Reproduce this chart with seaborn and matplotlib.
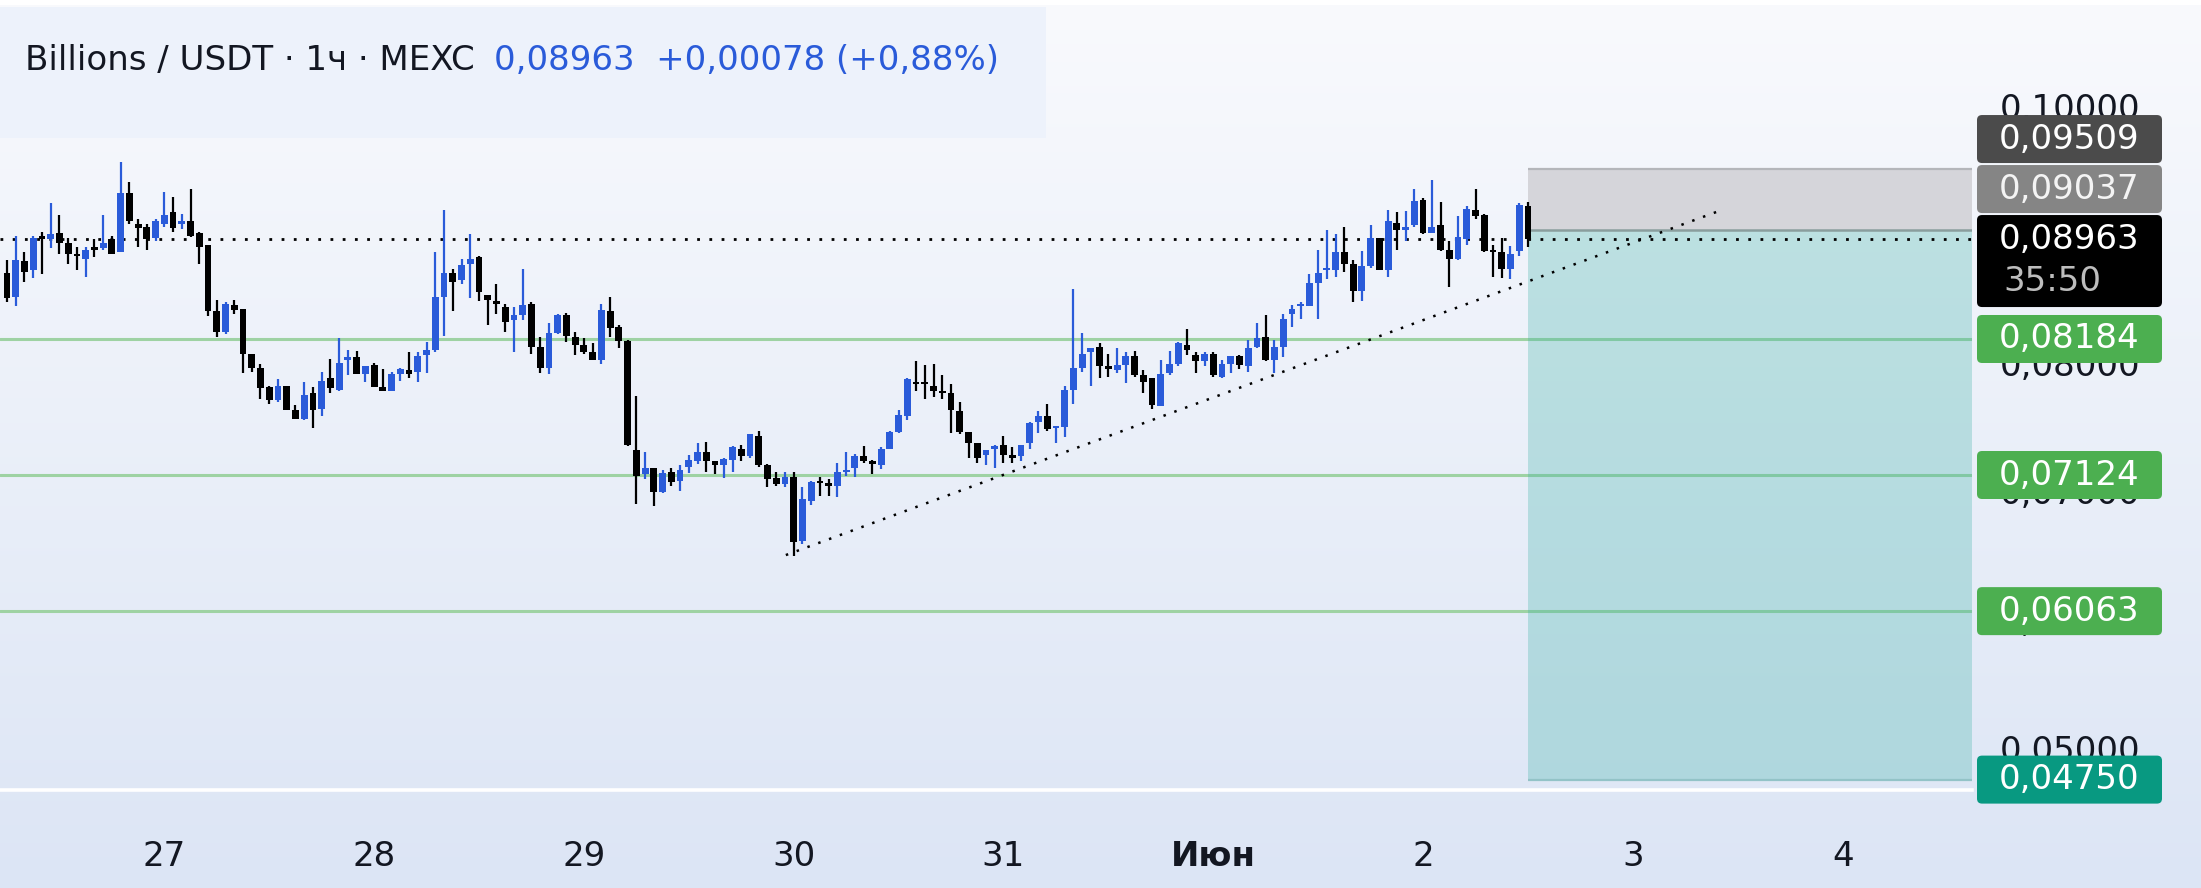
import numpy as np
import matplotlib
matplotlib.use("Agg")
import matplotlib.pyplot as plt
from matplotlib.patches import FancyBboxPatch, Rectangle
from matplotlib.colors import LinearSegmentedColormap
import seaborn as sns

# ---------------- data (hourly candles, MEXC Billions/USDT) ----------------
opens = [0.0870, 0.0851, 0.0879, 0.0872, 0.0899, 0.0896, 0.0901, 0.0893, 0.0885, 0.0881,
         0.0890, 0.0889, 0.0896, 0.0886, 0.0932, 0.0908, 0.0906, 0.0897, 0.0908, 0.0917,
         0.0908, 0.0910, 0.0901, 0.0892, 0.0840, 0.0824, 0.0845, 0.0842, 0.0807, 0.0796,
         0.0781, 0.0771, 0.0782, 0.0763, 0.0756, 0.0776, 0.0764, 0.0788, 0.0779, 0.0802,
         0.0804, 0.0791, 0.0798, 0.0781, 0.0778, 0.0791, 0.0794, 0.0793, 0.0806, 0.0810,
         0.0851, 0.0870, 0.0864, 0.0877, 0.0882, 0.0853, 0.0848, 0.0843, 0.0833, 0.0837,
         0.0846, 0.0812, 0.0796, 0.0823, 0.0837, 0.0820, 0.0814, 0.0808, 0.0802, 0.0840,
         0.0828, 0.0817, 0.0732, 0.0713, 0.0718, 0.0699, 0.0715, 0.0708, 0.0719, 0.0723,
         0.0730, 0.0723, 0.0720, 0.0724, 0.0733, 0.0727, 0.0743, 0.0720, 0.0710, 0.0705,
         0.0711, 0.0661, 0.0692, 0.0708, 0.0706, 0.0704, 0.0715, 0.0718, 0.0727, 0.0723,
         0.0720, 0.0733, 0.0746, 0.0758, 0.0785, 0.0785, 0.0782, 0.0778, 0.0776, 0.0762,
         0.0746, 0.0737, 0.0728, 0.0733, 0.0736, 0.0728, 0.0727, 0.0737, 0.0754, 0.0758,
         0.0749, 0.0750, 0.0779, 0.0796, 0.0808, 0.0812, 0.0797, 0.0794, 0.0798, 0.0805,
         0.0790, 0.0788, 0.0766, 0.0792, 0.0799, 0.0814, 0.0806, 0.0801, 0.0807, 0.0789,
         0.0799, 0.0805, 0.0797, 0.0812, 0.0820, 0.0802, 0.0812, 0.0838, 0.0844, 0.0844,
         0.0862, 0.0872, 0.0872, 0.0886, 0.0877, 0.0856, 0.0875, 0.0897, 0.0872, 0.0909,
         0.0903, 0.0907, 0.0927, 0.0901, 0.0907, 0.0888, 0.0881, 0.0896, 0.0919, 0.0915,
         0.0888, 0.0886, 0.0873, 0.0887, 0.0922]
highs = [0.0880, 0.0899, 0.0886, 0.0899, 0.0902, 0.0924, 0.0915, 0.0897, 0.0890, 0.0890,
         0.0896, 0.0915, 0.0899, 0.0956, 0.0941, 0.0912, 0.0908, 0.0912, 0.0933, 0.0929,
         0.0916, 0.0935, 0.0902, 0.0892, 0.0849, 0.0847, 0.0849, 0.0842, 0.0807, 0.0799,
         0.0782, 0.0787, 0.0782, 0.0767, 0.0785, 0.0781, 0.0793, 0.0803, 0.0819, 0.0810,
         0.0809, 0.0797, 0.0800, 0.0795, 0.0793, 0.0796, 0.0808, 0.0808, 0.0816, 0.0886,
         0.0919, 0.0873, 0.0881, 0.0900, 0.0883, 0.0853, 0.0861, 0.0846, 0.0843, 0.0873,
         0.0847, 0.0820, 0.0831, 0.0838, 0.0839, 0.0824, 0.0819, 0.0815, 0.0846, 0.0851,
         0.0829, 0.0818, 0.0774, 0.0730, 0.0718, 0.0716, 0.0718, 0.0720, 0.0728, 0.0737,
         0.0738, 0.0723, 0.0726, 0.0735, 0.0736, 0.0744, 0.0747, 0.0721, 0.0715, 0.0715,
         0.0715, 0.0703, 0.0708, 0.0711, 0.0709, 0.0722, 0.0730, 0.0729, 0.0735, 0.0724,
         0.0734, 0.0747, 0.0763, 0.0788, 0.0801, 0.0798, 0.0799, 0.0790, 0.0783, 0.0769,
         0.0746, 0.0737, 0.0732, 0.0736, 0.0743, 0.0734, 0.0736, 0.0754, 0.0762, 0.0768,
         0.0750, 0.0782, 0.0857, 0.0823, 0.0811, 0.0815, 0.0807, 0.0811, 0.0808, 0.0809,
         0.0794, 0.0788, 0.0802, 0.0809, 0.0816, 0.0826, 0.0808, 0.0808, 0.0808, 0.0802,
         0.0805, 0.0806, 0.0818, 0.0831, 0.0837, 0.0818, 0.0838, 0.0845, 0.0847, 0.0869,
         0.0888, 0.0903, 0.0900, 0.0906, 0.0880, 0.0887, 0.0907, 0.0897, 0.0919, 0.0917,
         0.0918, 0.0935, 0.0928, 0.0942, 0.0925, 0.0895, 0.0914, 0.0922, 0.0935, 0.0916,
         0.0892, 0.0897, 0.0891, 0.0924, 0.0925]
lows = [0.0847, 0.0844, 0.0863, 0.0866, 0.0869, 0.0889, 0.0885, 0.0877, 0.0872, 0.0867,
        0.0882, 0.0888, 0.0885, 0.0886, 0.0908, 0.0890, 0.0888, 0.0895, 0.0906, 0.0902,
        0.0904, 0.0898, 0.0877, 0.0836, 0.0820, 0.0822, 0.0838, 0.0792, 0.0793, 0.0772,
        0.0768, 0.0769, 0.0763, 0.0756, 0.0755, 0.0749, 0.0758, 0.0776, 0.0778, 0.0790,
        0.0791, 0.0785, 0.0781, 0.0778, 0.0778, 0.0786, 0.0788, 0.0785, 0.0792, 0.0808,
        0.0821, 0.0840, 0.0861, 0.0850, 0.0848, 0.0829, 0.0838, 0.0824, 0.0808, 0.0833,
        0.0807, 0.0792, 0.0791, 0.0822, 0.0816, 0.0806, 0.0807, 0.0802, 0.0799, 0.0820,
        0.0811, 0.0735, 0.0690, 0.0709, 0.0688, 0.0698, 0.0704, 0.0700, 0.0714, 0.0721,
        0.0715, 0.0713, 0.0710, 0.0715, 0.0723, 0.0726, 0.0719, 0.0703, 0.0704, 0.0703,
        0.0649, 0.0659, 0.0689, 0.0696, 0.0696, 0.0695, 0.0712, 0.0711, 0.0722, 0.0713,
        0.0717, 0.0733, 0.0745, 0.0755, 0.0778, 0.0772, 0.0773, 0.0772, 0.0745, 0.0744,
        0.0726, 0.0722, 0.0720, 0.0718, 0.0722, 0.0722, 0.0723, 0.0733, 0.0745, 0.0747,
        0.0737, 0.0742, 0.0768, 0.0793, 0.0782, 0.0788, 0.0789, 0.0792, 0.0784, 0.0789,
        0.0776, 0.0764, 0.0766, 0.0790, 0.0797, 0.0806, 0.0792, 0.0797, 0.0789, 0.0788,
        0.0792, 0.0795, 0.0793, 0.0811, 0.0801, 0.0792, 0.0804, 0.0828, 0.0834, 0.0844,
        0.0834, 0.0865, 0.0867, 0.0871, 0.0847, 0.0848, 0.0874, 0.0872, 0.0867, 0.0888,
        0.0895, 0.0906, 0.0900, 0.0901, 0.0887, 0.0859, 0.0880, 0.0892, 0.0912, 0.0886,
        0.0867, 0.0866, 0.0865, 0.0883, 0.0890]
closes = [0.0850, 0.0880, 0.0871, 0.0897, 0.0896, 0.0900, 0.0893, 0.0885, 0.0883, 0.0888,
          0.0888, 0.0893, 0.0885, 0.0932, 0.0910, 0.0905, 0.0896, 0.0910, 0.0915, 0.0905,
          0.0910, 0.0899, 0.0890, 0.0840, 0.0824, 0.0846, 0.0841, 0.0807, 0.0796, 0.0780,
          0.0771, 0.0782, 0.0763, 0.0756, 0.0775, 0.0763, 0.0786, 0.0780, 0.0800, 0.0804,
          0.0791, 0.0797, 0.0781, 0.0778, 0.0791, 0.0795, 0.0791, 0.0805, 0.0810, 0.0851,
          0.0870, 0.0863, 0.0876, 0.0881, 0.0855, 0.0849, 0.0846, 0.0832, 0.0837, 0.0845,
          0.0812, 0.0796, 0.0823, 0.0837, 0.0821, 0.0814, 0.0808, 0.0802, 0.0841, 0.0827,
          0.0817, 0.0736, 0.0712, 0.0718, 0.0699, 0.0714, 0.0707, 0.0716, 0.0724, 0.0730,
          0.0723, 0.0720, 0.0725, 0.0734, 0.0727, 0.0744, 0.0720, 0.0709, 0.0705, 0.0711,
          0.0660, 0.0694, 0.0707, 0.0706, 0.0704, 0.0715, 0.0716, 0.0727, 0.0723, 0.0721,
          0.0733, 0.0746, 0.0759, 0.0787, 0.0783, 0.0783, 0.0778, 0.0776, 0.0763, 0.0746,
          0.0737, 0.0726, 0.0732, 0.0735, 0.0728, 0.0726, 0.0736, 0.0753, 0.0758, 0.0748,
          0.0750, 0.0779, 0.0796, 0.0807, 0.0811, 0.0797, 0.0795, 0.0798, 0.0805, 0.0790,
          0.0785, 0.0767, 0.0791, 0.0799, 0.0815, 0.0810, 0.0801, 0.0807, 0.0790, 0.0799,
          0.0805, 0.0798, 0.0811, 0.0819, 0.0802, 0.0812, 0.0834, 0.0842, 0.0846, 0.0862,
          0.0870, 0.0873, 0.0886, 0.0877, 0.0856, 0.0875, 0.0897, 0.0872, 0.0910, 0.0903,
          0.0906, 0.0926, 0.0901, 0.0906, 0.0888, 0.0881, 0.0898, 0.0920, 0.0914, 0.0887,
          0.0886, 0.0873, 0.0885, 0.0923, 0.08963]

day_tick_hours = [18, 42, 66, 90, 114, 138, 162, 186, 210]
day_labels = ["27", "28", "29", "30", "31", "Июн", "2", "3", "4"]
bold_label = "Июн"

level_prices = [0.08184, 0.07124, 0.06063]
current_price = 0.08963
stop_price = 0.09509
entry_price = 0.09037
target_price = 0.04750
countdown = "35:50"
trend_x = [89.1, 195.8]
trend_y = [0.0650, 0.0918]
y_ticks = [0.05, 0.06, 0.07, 0.08, 0.09, 0.10]
title_main = "Billions / USDT · 1ч · MEXC"
title_quote = "0,08963  +0,00078 (+0,88%)"

# ---------------- style ----------------
sns.set_theme(style="white")
plt.rcParams["font.family"] = ["DejaVu Sans"]

W, H = 2201, 888
fig = plt.figure(figsize=(W / 100, H / 100), dpi=100)

UP = "#2a5bd9"
DOWN = "#000000"
GREEN_LINE = "#9ed2a3"

def fmt(v):
    return f"{v:.5f}".replace(".", ",")

# background gradient
bg = fig.add_axes([0, 0, 1, 1])
grad_cmap = LinearSegmentedColormap.from_list("bg", ["#dce5f5", "#f9fafd"])
bg.imshow(np.linspace(0, 1, 256).reshape(-1, 1)[::-1], aspect="auto", cmap=grad_cmap,
          extent=[0, 1, 0, 1], origin="upper")
bg.set_xlim(0, 1); bg.set_ylim(0, 1)
bg.axis("off")

# main price axes
ax = fig.add_axes([0, 98 / H, 1972 / W, 790 / H])
ax.set_facecolor("none")
ax.set_xlim(-0.8, 224.8)
ax.set_ylim(0.04669, 0.10826)

x = np.arange(len(opens))
o = np.array(opens); c = np.array(closes); hi = np.array(highs); lo = np.array(lows)
cols = np.where(c >= o, UP, DOWN)

# levels
for lv in level_prices:
    ax.axhline(lv, color=GREEN_LINE, lw=2.2, zorder=1)

# position tool (short)
x0 = len(opens) - 1
x1 = ax.get_xlim()[1]
ax.add_patch(Rectangle((x0, entry_price), x1 - x0, stop_price - entry_price,
                       facecolor="#d5d5da", edgecolor="none", zorder=1.5))
ax.add_patch(Rectangle((x0, target_price), x1 - x0, entry_price - target_price,
                       facecolor="#41b3a9", alpha=0.3, edgecolor="none", zorder=1.5))
ax.hlines(stop_price, x0, x1, color="#b4b6ba", lw=1.6, zorder=1.6)
ax.hlines(entry_price, x0, x1, color="#8a9e9e", lw=1.8, zorder=1.6)
ax.hlines(target_price, x0, x1, color="#93c3c7", lw=1.6, zorder=1.6)

# current price dotted line
ax.axhline(current_price, color="black", lw=2.0, linestyle=(0, (1, 3.4)),
           dash_capstyle="butt", zorder=2)

# trend line (seaborn)
sns.lineplot(x=trend_x, y=trend_y, ax=ax, color="black", lw=1.8,
             linestyle=(0, (1, 3.6)), dash_capstyle="butt", zorder=2)

# candles
ax.vlines(x, lo, hi, colors=cols, lw=1.6, zorder=3)
body = np.maximum(np.abs(c - o), 0.00016)
ax.bar(x, body, bottom=np.minimum(o, c), width=0.78, color=cols, linewidth=0, zorder=4)

# axes styling
for s in ["top", "left", "right"]:
    ax.spines[s].set_visible(False)
ax.spines["bottom"].set_color("white")
ax.spines["bottom"].set_linewidth(2.6)
ax.yaxis.tick_right()
ax.set_yticks(y_ticks)
ax.set_yticklabels([fmt(v) for v in y_ticks])
ax.tick_params(axis="y", length=0, pad=20, labelsize=24.5, labelcolor="#131722")
ax.set_xticks(day_tick_hours)
ax.set_xticklabels(day_labels)
ax.tick_params(axis="x", length=0, pad=36, labelsize=24.5, labelcolor="#131722")
for t in ax.get_xticklabels():
    if t.get_text() == bold_label:
        t.set_fontweight("bold")
ax.grid(False)
ax.set_xlabel(""); ax.set_ylabel("")

# overlay in pixel space
ov = fig.add_axes([0, 0, 1, 1])
ov.set_xlim(0, W); ov.set_ylim(0, H)
ov.axis("off")
ov.patch.set_alpha(0)

def py(p):
    return ax.transData.transform((0, p))[1]

BX0, BW, BH = 1977, 185, 48
TX = BX0 + BW / 2

def label_box(yc, text, fc, tc="white", h=BH):
    ov.add_patch(FancyBboxPatch((BX0, yc - h / 2), BW, h,
                                boxstyle="round,pad=0,rounding_size=5",
                                facecolor=fc, edgecolor="none", zorder=10))
    ov.text(TX, yc, text, ha="center", va="center", color=tc, fontsize=24.5, zorder=11)

# current price box with countdown
yc_cur = py(current_price)
cur_top = yc_cur + 24
cur_h = 92
ov.add_patch(FancyBboxPatch((BX0, cur_top - cur_h), BW, cur_h,
                            boxstyle="round,pad=0,rounding_size=5",
                            facecolor="black", edgecolor="none", zorder=10))
ov.text(TX, yc_cur, fmt(current_price), ha="center", va="center", color="white",
        fontsize=24.5, zorder=11)
ov.text(BX0 + 26, yc_cur - 42, countdown, ha="left", va="center", color="#bdbdbd",
        fontsize=24.5, zorder=11)

# entry and stop boxes stacked above
y_entry = cur_top + 2 + BH / 2
label_box(y_entry, fmt(entry_price), "#858585", tc="#f4f4f4")
y_stop = y_entry + BH + 2
label_box(y_stop, fmt(stop_price), "#4b4b4b")

for lv in level_prices:
    label_box(py(lv), fmt(lv), "#4caf50")
label_box(py(target_price), fmt(target_price), "#089981")

# title panel
ov.add_patch(Rectangle((0, H - 138), 1046, 131, facecolor="#edf2fb", edgecolor="none", zorder=5))
ov.add_patch(Rectangle((0, H - 5), W, 5, facecolor="white", edgecolor="none", zorder=5))
ov.text(25, H - 61, title_main, ha="left", va="center", color="#131722", fontsize=24.5, zorder=6)
ov.text(494, H - 61, title_quote, ha="left", va="center", color=UP, fontsize=24.5, zorder=6)

fig.savefig("out.png", dpi=100)
